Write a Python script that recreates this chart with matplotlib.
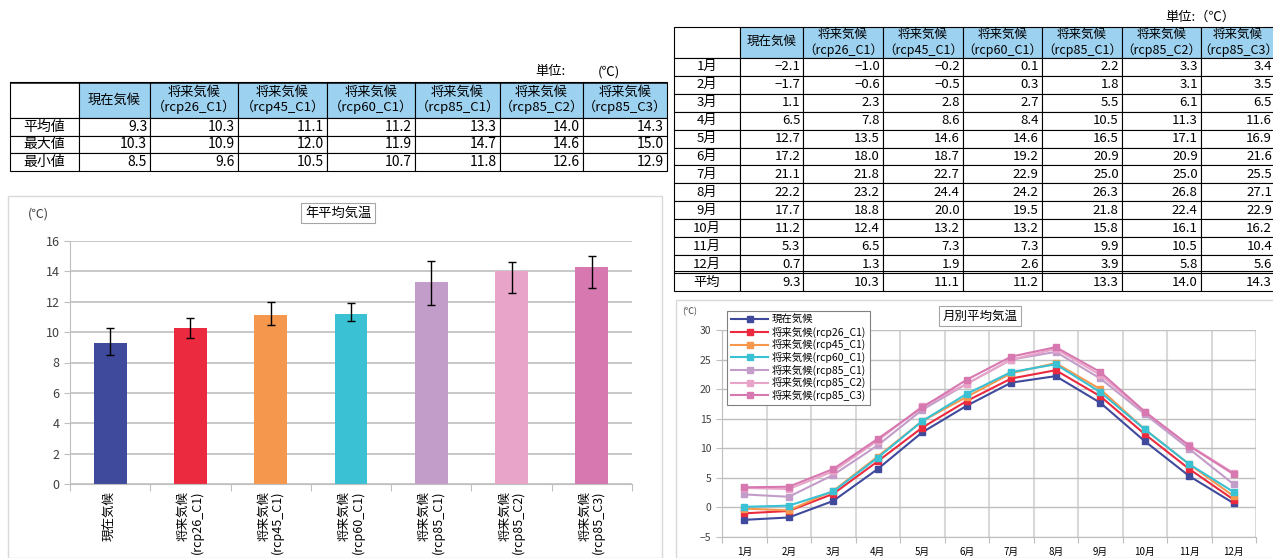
import numpy as np
import matplotlib.pyplot as plt
from matplotlib.table import Table
from matplotlib.patches import Rectangle

plt.rcParams['font.family'] = ['Noto Sans CJK JP', 'DejaVu Sans']

W, H = 1273, 558

# scenario names
table_header = ['現在気候', '将来気候\n（rcp26_C1）', '将来気候\n（rcp45_C1）', '将来気候\n（rcp60_C1）',
                '将来気候\n（rcp85_C1）', '将来気候\n（rcp85_C2）', '将来気候\n（rcp85_C3）']
bar_labels = ['現在気候', '将来気候\n(rcp26_C1)', '将来気候\n(rcp45_C1)', '将来気候\n(rcp60_C1)',
              '将来気候\n(rcp85_C1)', '将来気候\n(rcp85_C2)', '将来気候\n(rcp85_C3)']
legend_labels = ['現在気候', '将来気候(rcp26_C1)', '将来気候(rcp45_C1)', '将来気候(rcp60_C1)',
                 '将来気候(rcp85_C1)', '将来気候(rcp85_C2)', '将来気候(rcp85_C3)']
colors = ['#3F4A9C', '#EC2A3F', '#F6974E', '#3AC1D4', '#C39DC9', '#E9A5C9', '#D778B0']

# annual statistics
stat_labels = ['平均値', '最大値', '最小値']
annual_mean = [9.3, 10.3, 11.1, 11.2, 13.3, 14.0, 14.3]
annual_max = [10.3, 10.9, 12.0, 11.9, 14.7, 14.6, 15.0]
annual_min = [8.5, 9.6, 10.5, 10.7, 11.8, 12.6, 12.9]

# monthly means
months = ['1月', '2月', '3月', '4月', '5月', '6月', '7月', '8月', '9月', '10月', '11月', '12月']
now_clim = [-2.1, -1.7, 1.1, 6.5, 12.7, 17.2, 21.1, 22.2, 17.7, 11.2, 5.3, 0.7]
rcp26_c1 = [-1.0, -0.6, 2.3, 7.8, 13.5, 18.0, 21.8, 23.2, 18.8, 12.4, 6.5, 1.3]
rcp45_c1 = [-0.2, -0.5, 2.8, 8.6, 14.6, 18.7, 22.7, 24.4, 20.0, 13.2, 7.3, 1.9]
rcp60_c1 = [0.1, 0.3, 2.7, 8.4, 14.6, 19.2, 22.9, 24.2, 19.5, 13.2, 7.3, 2.6]
rcp85_c1 = [2.2, 1.8, 5.5, 10.5, 16.5, 20.9, 25.0, 26.3, 21.8, 15.8, 9.9, 3.9]
rcp85_c2 = [3.3, 3.1, 6.1, 11.3, 17.1, 20.9, 25.0, 26.8, 22.4, 16.1, 10.5, 5.8]
rcp85_c3 = [3.4, 3.5, 6.5, 11.6, 16.9, 21.6, 25.5, 27.1, 22.9, 16.2, 10.4, 5.6]
monthly_series = [now_clim, rcp26_c1, rcp45_c1, rcp60_c1, rcp85_c1, rcp85_c2, rcp85_c3]

fig = plt.figure(figsize=(W / 100, H / 100), dpi=100)


def box(x0, y0, x1, y1):
    return [x0 / W, 1 - y1 / H, (x1 - x0) / W, (y1 - y0) / H]


def fmt(v):
    return f'{v:.1f}'.replace('-', '−')


def draw_table(rect, col_w, head_h, row_h, row_labels, rows, fs_head, fs_body):
    ax = fig.add_axes(rect)
    ax.axis('off')
    tb = Table(ax, bbox=[0, 0, 1, 1])
    tb.auto_set_font_size(False)
    for c in range(len(col_w)):
        txt = '' if c == 0 else table_header[c - 1]
        fc = 'white' if c == 0 else '#9DD1F0'
        cell = tb.add_cell(0, c, width=col_w[c], height=head_h, text=txt, loc='center',
                           facecolor=fc, edgecolor='black')
        cell.set_linewidth(0.8)
        cell.get_text().set_fontsize(fs_head)
        cell.get_text().set_linespacing(1.15)
    for r, (lab, vals) in enumerate(zip(row_labels, rows), start=1):
        cell = tb.add_cell(r, 0, width=col_w[0], height=row_h, text=lab, loc='center',
                           facecolor='white', edgecolor='black')
        cell.set_linewidth(0.8)
        cell.get_text().set_fontsize(fs_body)
        for c, v in enumerate(vals, start=1):
            cell = tb.add_cell(r, c, width=col_w[c], height=row_h, text=fmt(v), loc='right',
                               facecolor='white', edgecolor='black')
            cell.PAD = 0.04
            cell.set_linewidth(0.8)
            cell.get_text().set_fontsize(fs_body)
    ax.add_table(tb)
    return ax


# left table: annual statistics
stat_rows = [annual_mean, annual_max, annual_min]
tax1 = draw_table(box(10, 82, 667, 171), [69, 71, 88, 89, 88, 85, 83, 84], 36, 17.7,
                  stat_labels, stat_rows, 9.5, 10)
tax1.axhline(1, color='black', lw=1.8)
fig.text(535 / W, 1 - 72 / H, '単位:', fontsize=9.5, va='center', ha='left')
fig.text(598 / W, 1 - 72 / H, '(℃)', fontsize=9.5, va='center', ha='left')

# right table: monthly means
monthly_rows = [[s[i] for s in monthly_series] for i in range(12)]
monthly_rows.append(annual_mean)
tax2 = draw_table(box(674, 27, 1275, 291), [66, 63, 80, 80, 79, 80, 79, 74], 31, 18,
                  months + ['平均'], monthly_rows, 9, 9.5)
tax2.axhline(20.5 / 264, color='black', lw=0.8)
fig.text(1165 / W, 1 - 17 / H, '単位:（℃）', fontsize=9.5, va='center', ha='left')

# panel frames
fig.add_artist(Rectangle((8 / W, 0), 654 / W, 1 - 196 / H, transform=fig.transFigure,
                         fill=False, edgecolor='#D9D9D9', lw=1))
fig.add_artist(Rectangle((676 / W, 0), 600 / W, 1 - 300 / H, transform=fig.transFigure,
                         fill=False, edgecolor='#D9D9D9', lw=1))

# bar chart of annual mean
ax1 = fig.add_axes(box(70, 241, 632, 484))
x = np.arange(len(annual_mean))
ax1.bar(x, annual_mean, width=0.41, color=colors, zorder=2)
yerr = [np.subtract(annual_mean, annual_min), np.subtract(annual_max, annual_mean)]
ax1.errorbar(x, annual_mean, yerr=yerr, fmt='none', ecolor='black', elinewidth=1,
             capsize=3, capthick=1, zorder=3)
ax1.set_ylim(0, 16)
ax1.set_yticks(range(0, 17, 2))
ax1.set_xlim(-0.5, len(x) - 0.5)
ax1.set_xticks(np.arange(len(x) + 1) - 0.5)
ax1.set_xticklabels([])
ax1.set_xticks(x, minor=True)
ax1.set_xticklabels(bar_labels, minor=True, rotation=90, fontsize=9, va='top',
                    multialignment='right', linespacing=1.05)
ax1.tick_params(axis='x', which='minor', length=0, pad=5)
ax1.tick_params(axis='x', which='major', length=5, color='#BFBFBF')
ax1.tick_params(axis='y', length=4, color='#BFBFBF', labelsize=9, labelcolor='#404040')
ax1.grid(axis='y', color='#BFBFBF', lw=1.2)
ax1.set_axisbelow(True)
for s in ['top', 'right']:
    ax1.spines[s].set_visible(False)
for s in ['left', 'bottom']:
    ax1.spines[s].set_color('#BFBFBF')
fig.text(338 / W, 1 - 213 / H, '年平均気温', fontsize=9.5, ha='center', va='center',
         bbox=dict(boxstyle='square,pad=0.3', fc='white', ec='#A6A6A6', lw=0.8))
fig.text(38 / W, 1 - 214 / H, '(℃)', fontsize=9, ha='center', va='center', color='#404040')

# line chart of monthly mean
ax2 = fig.add_axes(box(722, 330, 1256, 537))
mx = np.arange(len(months))
for vals, c, lab in zip(monthly_series, colors, legend_labels):
    ax2.plot(mx, vals, color=c, lw=1.5, marker='s', ms=4, label=lab)
ax2.set_xlim(-0.5, len(months) - 0.5)
ax2.set_ylim(-5, 30)
ax2.set_yticks(range(-5, 31, 5))
ax2.set_xticks(np.arange(len(months) + 1) - 0.5)
ax2.set_xticklabels([])
ax2.set_xticks(mx, minor=True)
ax2.set_xticklabels(months, minor=True, fontsize=7)
ax2.tick_params(axis='x', which='minor', length=0, pad=7)
ax2.tick_params(axis='x', which='major', length=4, color='#BFBFBF')
ax2.tick_params(axis='y', length=4, color='#BFBFBF', labelsize=7.5, labelcolor='#404040')
ax2.grid(axis='y', color='#BFBFBF', lw=1)
ax2.grid(axis='x', which='major', color='#D9D9D9', lw=1.5)
ax2.set_axisbelow(True)
for s in ['top', 'right']:
    ax2.spines[s].set_visible(False)
for s in ['left', 'bottom']:
    ax2.spines[s].set_color('#BFBFBF')
leg = ax2.legend(loc='upper left', bbox_to_anchor=(0.009, 1.092), fontsize=7.5,
                 fancybox=False, edgecolor='#808080', framealpha=1, borderpad=0.4,
                 labelspacing=0.15, handlelength=3.6, handletextpad=0.3, borderaxespad=0)
leg.get_frame().set_linewidth(0.8)
fig.text(980 / W, 1 - 316 / H, '月別平均気温', fontsize=9, ha='center', va='center',
         bbox=dict(boxstyle='square,pad=0.3', fc='white', ec='#A6A6A6', lw=0.8))
fig.text(690 / W, 1 - 312 / H, '(℃)', fontsize=6.5, ha='center', va='center', color='#404040')

fig.savefig('out.png', dpi=100)
